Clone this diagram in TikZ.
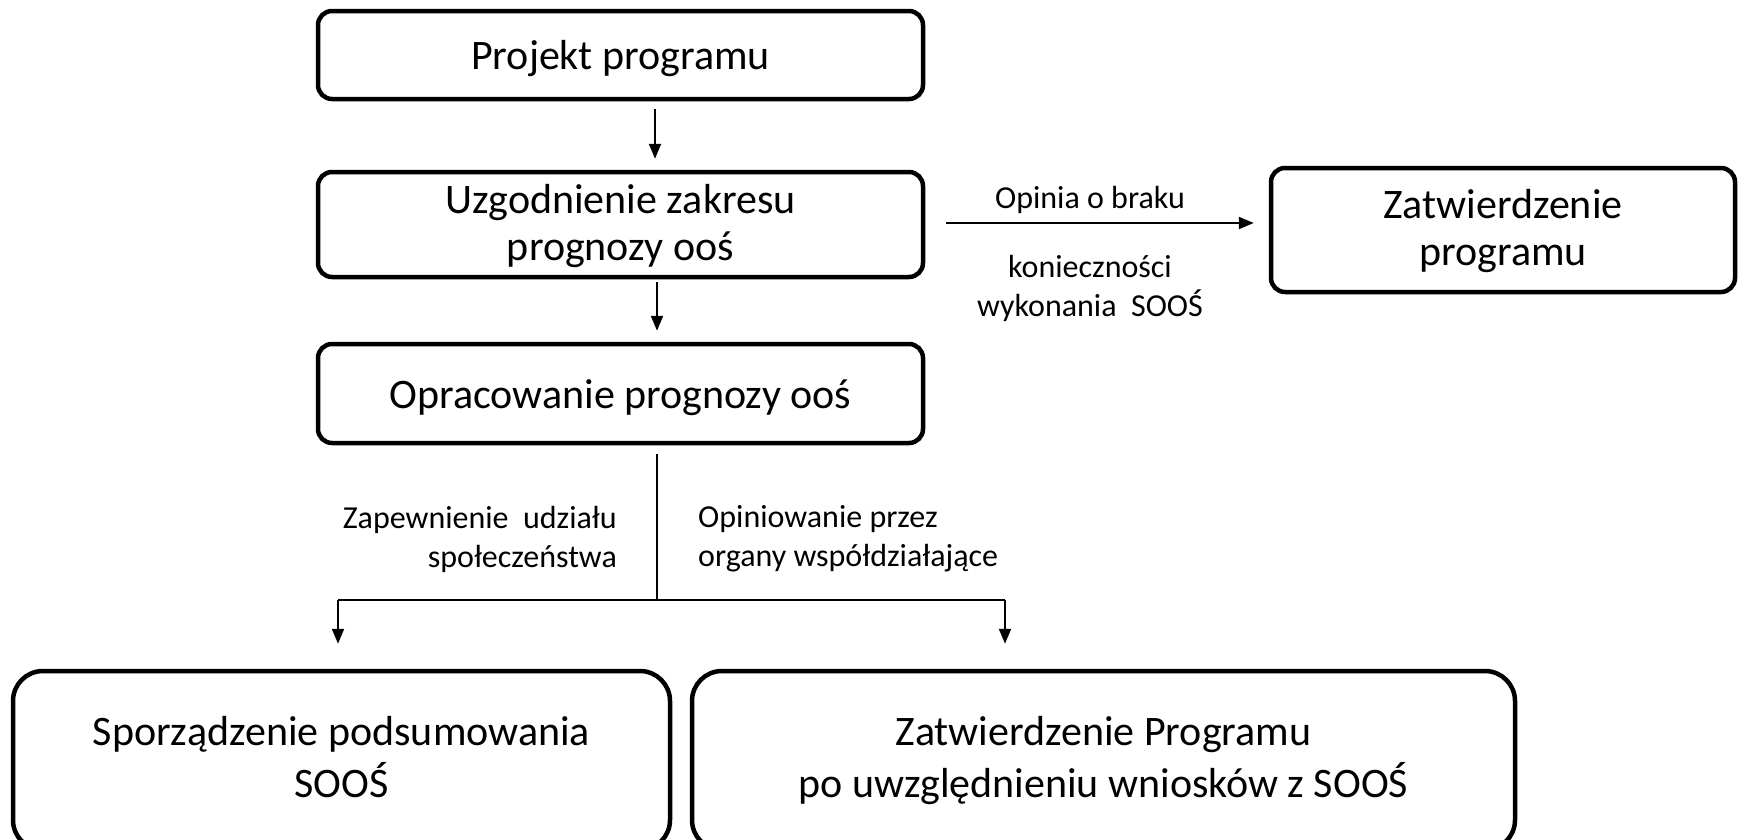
\documentclass[tikz,border=0pt]{standalone}
\usepackage{fontspec}
\setmainfont{Carlito}
\usetikzlibrary{arrows.meta}
\newcommand{\twolines}[2]{\begin{tabular}[b]{@{}c@{}}#1\\#2\end{tabular}}
\begin{document}
\begin{tikzpicture}[x=1pt,y=-1pt,
  box/.style={draw, line width=4.5pt, rounded corners=14pt,
    font=\fontsize{42}{47}\selectfont, inner sep=0pt, text height=29pt, text depth=0pt},
  twobox/.style={box, text height=71pt},
  bigbox/.style={box, rounded corners=30pt, font=\fontsize{42}{52}\selectfont, text height=73pt},
  lbl/.style={font=\fontsize{32}{39}\selectfont, inner sep=0pt},
  conn/.style={line width=2pt},
  arr/.style={conn, -{Triangle[length=15pt,width=12pt]}}]
\useasboundingbox (0,0) rectangle (1738,839);
\node[box, minimum width=605pt, minimum height=88pt] (b1) at (620.5,55) {Projekt programu};
\node[twobox, minimum width=605pt, minimum height=105pt] (b2) at (620.5,224.5) {\twolines{Uzgodnienie zakresu}{prognozy ooś}};
\node[box, minimum width=605pt, minimum height=99pt] (b3) at (620.5,393.5) {Opracowanie prognozy ooś};
\node[twobox, minimum width=464pt, minimum height=124pt] (b6) at (1503,230) {\twolines{Zatwierdzenie}{programu}};
\node[bigbox, minimum width=657pt, minimum height=179pt] (b4) at (341.5,760.5) {\twolines{Sporządzenie podsumowania}{SOOŚ}};
\node[bigbox, minimum width=823pt, minimum height=179pt] (b5) at (1103.5,760.5) {\twolines{Zatwierdzenie Programu}{po uwzględnieniu wniosków z SOOŚ}};
\coordinate (c1) at (655,0);
\coordinate (c2) at (657,0);
\coordinate (h) at (0,223);
\coordinate (j) at (657,600);
\coordinate (l) at (338,600);
\coordinate (r) at (1005,600);
\draw[arr, shorten <=8pt, shorten >=11pt] (b1.south -| c1) -- (b2.north -| c1);
\draw[arr, shorten <=3pt, shorten >=11pt] (b2.south -| c2) -- (b3.north -| c2);
\draw[arr, shorten <=21pt, shorten >=15pt] (b2.east |- h) -- (b6.west |- h);
\draw[conn, shorten <=9pt] (b3.south -| j) -- (j);
\draw[conn] (l) -- (r);
\draw[arr, shorten >=25pt] (l) -- (b4.north -| l);
\draw[arr, shorten >=25pt] (r) -- (b5.north -| r);
\node[lbl] (t1) at (1090,200) {Opinia o braku};
\node[lbl, align=center] (t2) at (1090,288) {konieczności\\wykonania\ \ SOOŚ};
\node[lbl, align=right, anchor=east] (t3) at (617,539) {Zapewnienie\ \ udziału\\społeczeństwa};
\node[lbl, align=left, anchor=west] (t4) at (698,539) {Opiniowanie przez\\organy współdziałające};
\end{tikzpicture}
\end{document}
